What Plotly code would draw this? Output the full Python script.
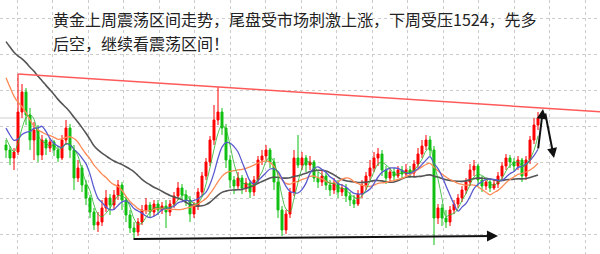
import plotly.graph_objects as go
import pandas as pd

# ---------------- data (gold, hourly candles) ----------------
first_open = 1514.75

close = [1513.5, 1511.5, 1513, 1523, 1528, 1522.25, 1516, 1518.5, 1512.25, 1516,
         1514, 1515.5, 1513.5, 1511.5, 1516, 1519, 1513.5, 1506.5, 1509, 1504.75,
         1501.5, 1498, 1494.75, 1495.5, 1499, 1501.5, 1499.75, 1502.25, 1504.75, 1501,
         1497.25, 1494, 1493, 1495.5, 1498.5, 1499.75, 1498, 1500, 1498.5, 1499.5,
         1498, 1500, 1502, 1504, 1502.25, 1501, 1497.5, 1499.5, 1503, 1507,
         1510.5, 1516, 1521, 1523, 1519, 1511, 1506, 1504.5, 1506.5, 1504,
         1505.25, 1503, 1506, 1511, 1512, 1513.5, 1510.5, 1505.5, 1498.5, 1493.5,
         1497.5, 1503, 1511.5, 1509.75, 1511.5, 1509.75, 1510.5, 1506.5, 1505.5, 1507,
         1504.75, 1503.5, 1505.25, 1503, 1504, 1502, 1501, 1500, 1502.5, 1504.75,
         1507, 1509, 1511.5, 1512.5, 1508.5, 1506.5, 1508, 1507, 1508.5, 1507.5,
         1508.5, 1507.75, 1510, 1512.5, 1514.5, 1516, 1513.5, 1496.5, 1499, 1496.5,
         1495.5, 1498.5, 1500, 1501.5, 1503.5, 1505.5, 1508.5, 1509.5, 1506, 1504.5,
         1505.5, 1504, 1505, 1507, 1509.5, 1511.5, 1510.5, 1509.5, 1511, 1507,
         1511, 1516, 1519.75, 1521.5]

high = [1516, 1514.5, 1514, 1532.5, 1530, 1529, 1524, 1520.5, 1519.75, 1517.25,
        1516.5, 1516.5, 1516, 1514.5, 1517.25, 1521, 1520, 1514.75, 1511, 1509.75,
        1506, 1502.25, 1499, 1498, 1501, 1503.5, 1502.5, 1503.5, 1506, 1505.5,
        1502, 1498.5, 1495.5, 1496.5, 1499.75, 1501.5, 1500.5, 1501, 1501, 1500.5,
        1501, 1501, 1503, 1505.5, 1505, 1503.5, 1502, 1500.5, 1504, 1508,
        1511.5, 1517, 1524.75, 1529.25, 1524, 1520, 1512.25, 1507, 1508, 1507.25,
        1506.5, 1506, 1507, 1512, 1513.5, 1514.75, 1514, 1511.5, 1506.5, 1499.5,
        1498.5, 1504, 1513.5, 1517.25, 1513, 1512.25, 1512, 1511, 1508, 1508.5,
        1508, 1506, 1506.5, 1506, 1505, 1505, 1503, 1502.25, 1503.5, 1506,
        1508, 1511, 1513, 1514, 1513.5, 1509.5, 1509, 1509, 1509.5, 1509.5,
        1510, 1509.5, 1511, 1514, 1516, 1517.25, 1517, 1514.5, 1500, 1500,
        1498.5, 1499.5, 1501, 1502.5, 1504.5, 1506.5, 1510, 1511, 1510, 1507,
        1506.5, 1506.5, 1506, 1508, 1510.5, 1512.5, 1512.25, 1511.5, 1512, 1511.5,
        1512, 1517, 1521.5, 1523]

low = [1511.5, 1509.75, 1508.5, 1512.25, 1521.5, 1519.75, 1513.5, 1511, 1510.5, 1511,
       1512.25, 1513, 1512, 1510.5, 1511, 1514.75, 1511.5, 1503.5, 1505.5, 1503,
       1499.75, 1496.5, 1493.5, 1493, 1494.5, 1498, 1497.25, 1498.5, 1501, 1498.5,
       1495.5, 1492.75, 1491.5, 1492, 1494.75, 1497.5, 1496.5, 1497, 1497.25, 1497.5,
       1494, 1497, 1499, 1501, 1501, 1499.5, 1495.5, 1496.5, 1498.5, 1502,
       1506, 1509.5, 1514.75, 1519.75, 1517.25, 1509, 1504, 1502.5, 1503.5, 1502.5,
       1503, 1501.5, 1502, 1505, 1509.75, 1511, 1509, 1503.5, 1496.5, 1492,
       1492.5, 1496.5, 1502, 1509, 1508.5, 1508, 1508.5, 1505.5, 1504, 1504.5,
       1503.5, 1502, 1502.5, 1501.5, 1502, 1500.5, 1499.5, 1499, 1499.5, 1501.5,
       1503.5, 1506, 1508, 1509.5, 1507, 1505, 1505.5, 1506, 1506.5, 1506.5,
       1507, 1506.5, 1507, 1509, 1511.5, 1513.5, 1512, 1489.75, 1495, 1494.5,
       1494, 1494.5, 1497.5, 1499, 1500.5, 1502.5, 1504.5, 1507, 1504.5, 1503,
       1503.5, 1503, 1503.5, 1504, 1506, 1508.5, 1509, 1508, 1508.5, 1505.5,
       1506, 1510, 1515, 1518.5]

# closes before the visible window (needed for the moving averages)
prior_close = [1552, 1551.5, 1551, 1550.5, 1550.25, 1550, 1549.75, 1549.5, 1549.25, 1549,
               1548.75, 1548.5, 1548.25, 1548, 1547.75, 1547, 1546.5, 1546, 1545, 1544.25,
               1543.5, 1542.75, 1526, 1523.5, 1522.25, 1521, 1519.75, 1518.5, 1514.25]

ma_periods = {"ma_fast": 4, "ma_mid": 7, "ma_slow": 15, "ma_long": 30}

title_line1 = "黄金上周震荡区间走势，尾盘受市场刺激上涨，下周受压1524，先多"
title_line2 = "后空，继续看震荡区间！"

# ---------------- derived ----------------
n = len(close)
idx = list(range(n))
opens = [first_open] + close[:-1]
allc = pd.Series(prior_close + close, dtype=float)


def sma(w):
    return allc.rolling(w, min_periods=1).mean().iloc[len(prior_close):].tolist()


ma_fast = sma(ma_periods["ma_fast"])
ma_mid = sma(ma_periods["ma_mid"])
ma_slow = sma(ma_periods["ma_slow"])
ma_long = sma(ma_periods["ma_long"])

x_lo, x_hi = -1.5, 148.5
y_lo, y_hi = 1487.5, 1551.0

fig = go.Figure()

fig.add_trace(go.Candlestick(
    x=idx, open=opens, high=high, low=low, close=close,
    increasing=dict(line=dict(color="#ff0000", width=1), fillcolor="#ff0000"),
    decreasing=dict(line=dict(color="#10c010", width=1), fillcolor="#10c010"),
    whiskerwidth=0, hoverinfo="skip"))

fig.add_trace(go.Scatter(x=idx, y=ma_long, mode="lines",
                         line=dict(color="#555555", width=1.6, shape="spline")))
fig.add_trace(go.Scatter(x=idx, y=ma_slow, mode="lines",
                         line=dict(color="#ff8a55", width=1.3, shape="spline")))
fig.add_trace(go.Scatter(x=idx, y=ma_mid, mode="lines",
                         line=dict(color="#5a5ad0", width=1.3, shape="spline")))
fig.add_trace(go.Scatter(x=idx, y=ma_fast, mode="lines",
                         line=dict(color="rgba(40,180,40,0.8)", width=1, shape="spline")))

# current price line
fig.add_shape(type="line", xref="paper", x0=0, x1=1, yref="y",
              y0=close[-1], y1=close[-1], line=dict(color="#cfcfcf", width=1),
              layer="below")

# resistance trend line through two swing highs, extended right
ia, ib = 3, 53
slope = (high[ib] - high[ia]) / (ib - ia)
fig.add_shape(type="line", x0=ia, y0=high[ia], x1=x_hi,
              y1=high[ia] + slope * (x_hi - ia),
              line=dict(color="#ff5a5a", width=1.5))

# support arrow along the lows
lo_i = low.index(min(low[:40]))
fig.add_annotation(x=123, y=1492, ax=lo_i - 0.5, ay=1491.25, xref="x", yref="y",
                   axref="x", ayref="y", text="", showarrow=True,
                   arrowhead=2, arrowsize=1, arrowwidth=2.2, arrowcolor="#111111")
# up then down arrows at the end
fig.add_annotation(x=134.25, y=1523.75, ax=133, ay=1513.5, xref="x", yref="y",
                   axref="x", ayref="y", text="", showarrow=True,
                   arrowhead=2, arrowsize=1, arrowwidth=2, arrowcolor="#111111")
fig.add_annotation(x=137, y=1511.5, ax=134.75, ay=1523, xref="x", yref="y",
                   axref="x", ayref="y", text="", showarrow=True,
                   arrowhead=2, arrowsize=1, arrowwidth=2, arrowcolor="#111111")

txt_font = dict(family="Noto Sans CJK SC", size=16, color="#222222")
fig.add_annotation(text=title_line1, xref="paper", yref="paper",
                   x=52 / 600, y=1 - 19 / 254, xanchor="left", yanchor="middle",
                   borderpad=0, showarrow=False, font=txt_font)
fig.add_annotation(text=title_line2, xref="paper", yref="paper",
                   x=52 / 600, y=1 - 42.5 / 254, xanchor="left", yanchor="middle",
                   borderpad=0, showarrow=False, font=txt_font)

fig.update_layout(
    width=600, height=254, margin=dict(l=0, r=0, t=0, b=0),
    paper_bgcolor="white", plot_bgcolor="white", showlegend=False,
    xaxis=dict(range=[x_lo, x_hi], rangeslider=dict(visible=False),
               showticklabels=False, zeroline=False, showline=False,
               showgrid=True, gridcolor="#cccccc", griddash="dot", gridwidth=1,
               tick0=2.75, dtick=8.875, tickmode="linear"),
    yaxis=dict(range=[y_lo, y_hi], showticklabels=False, zeroline=False, showline=False,
               showgrid=True, gridcolor="#cccccc", griddash="dot", gridwidth=1,
               tick0=1546.5, dtick=9, tickmode="linear"),
)

fig.write_html("out.html")
